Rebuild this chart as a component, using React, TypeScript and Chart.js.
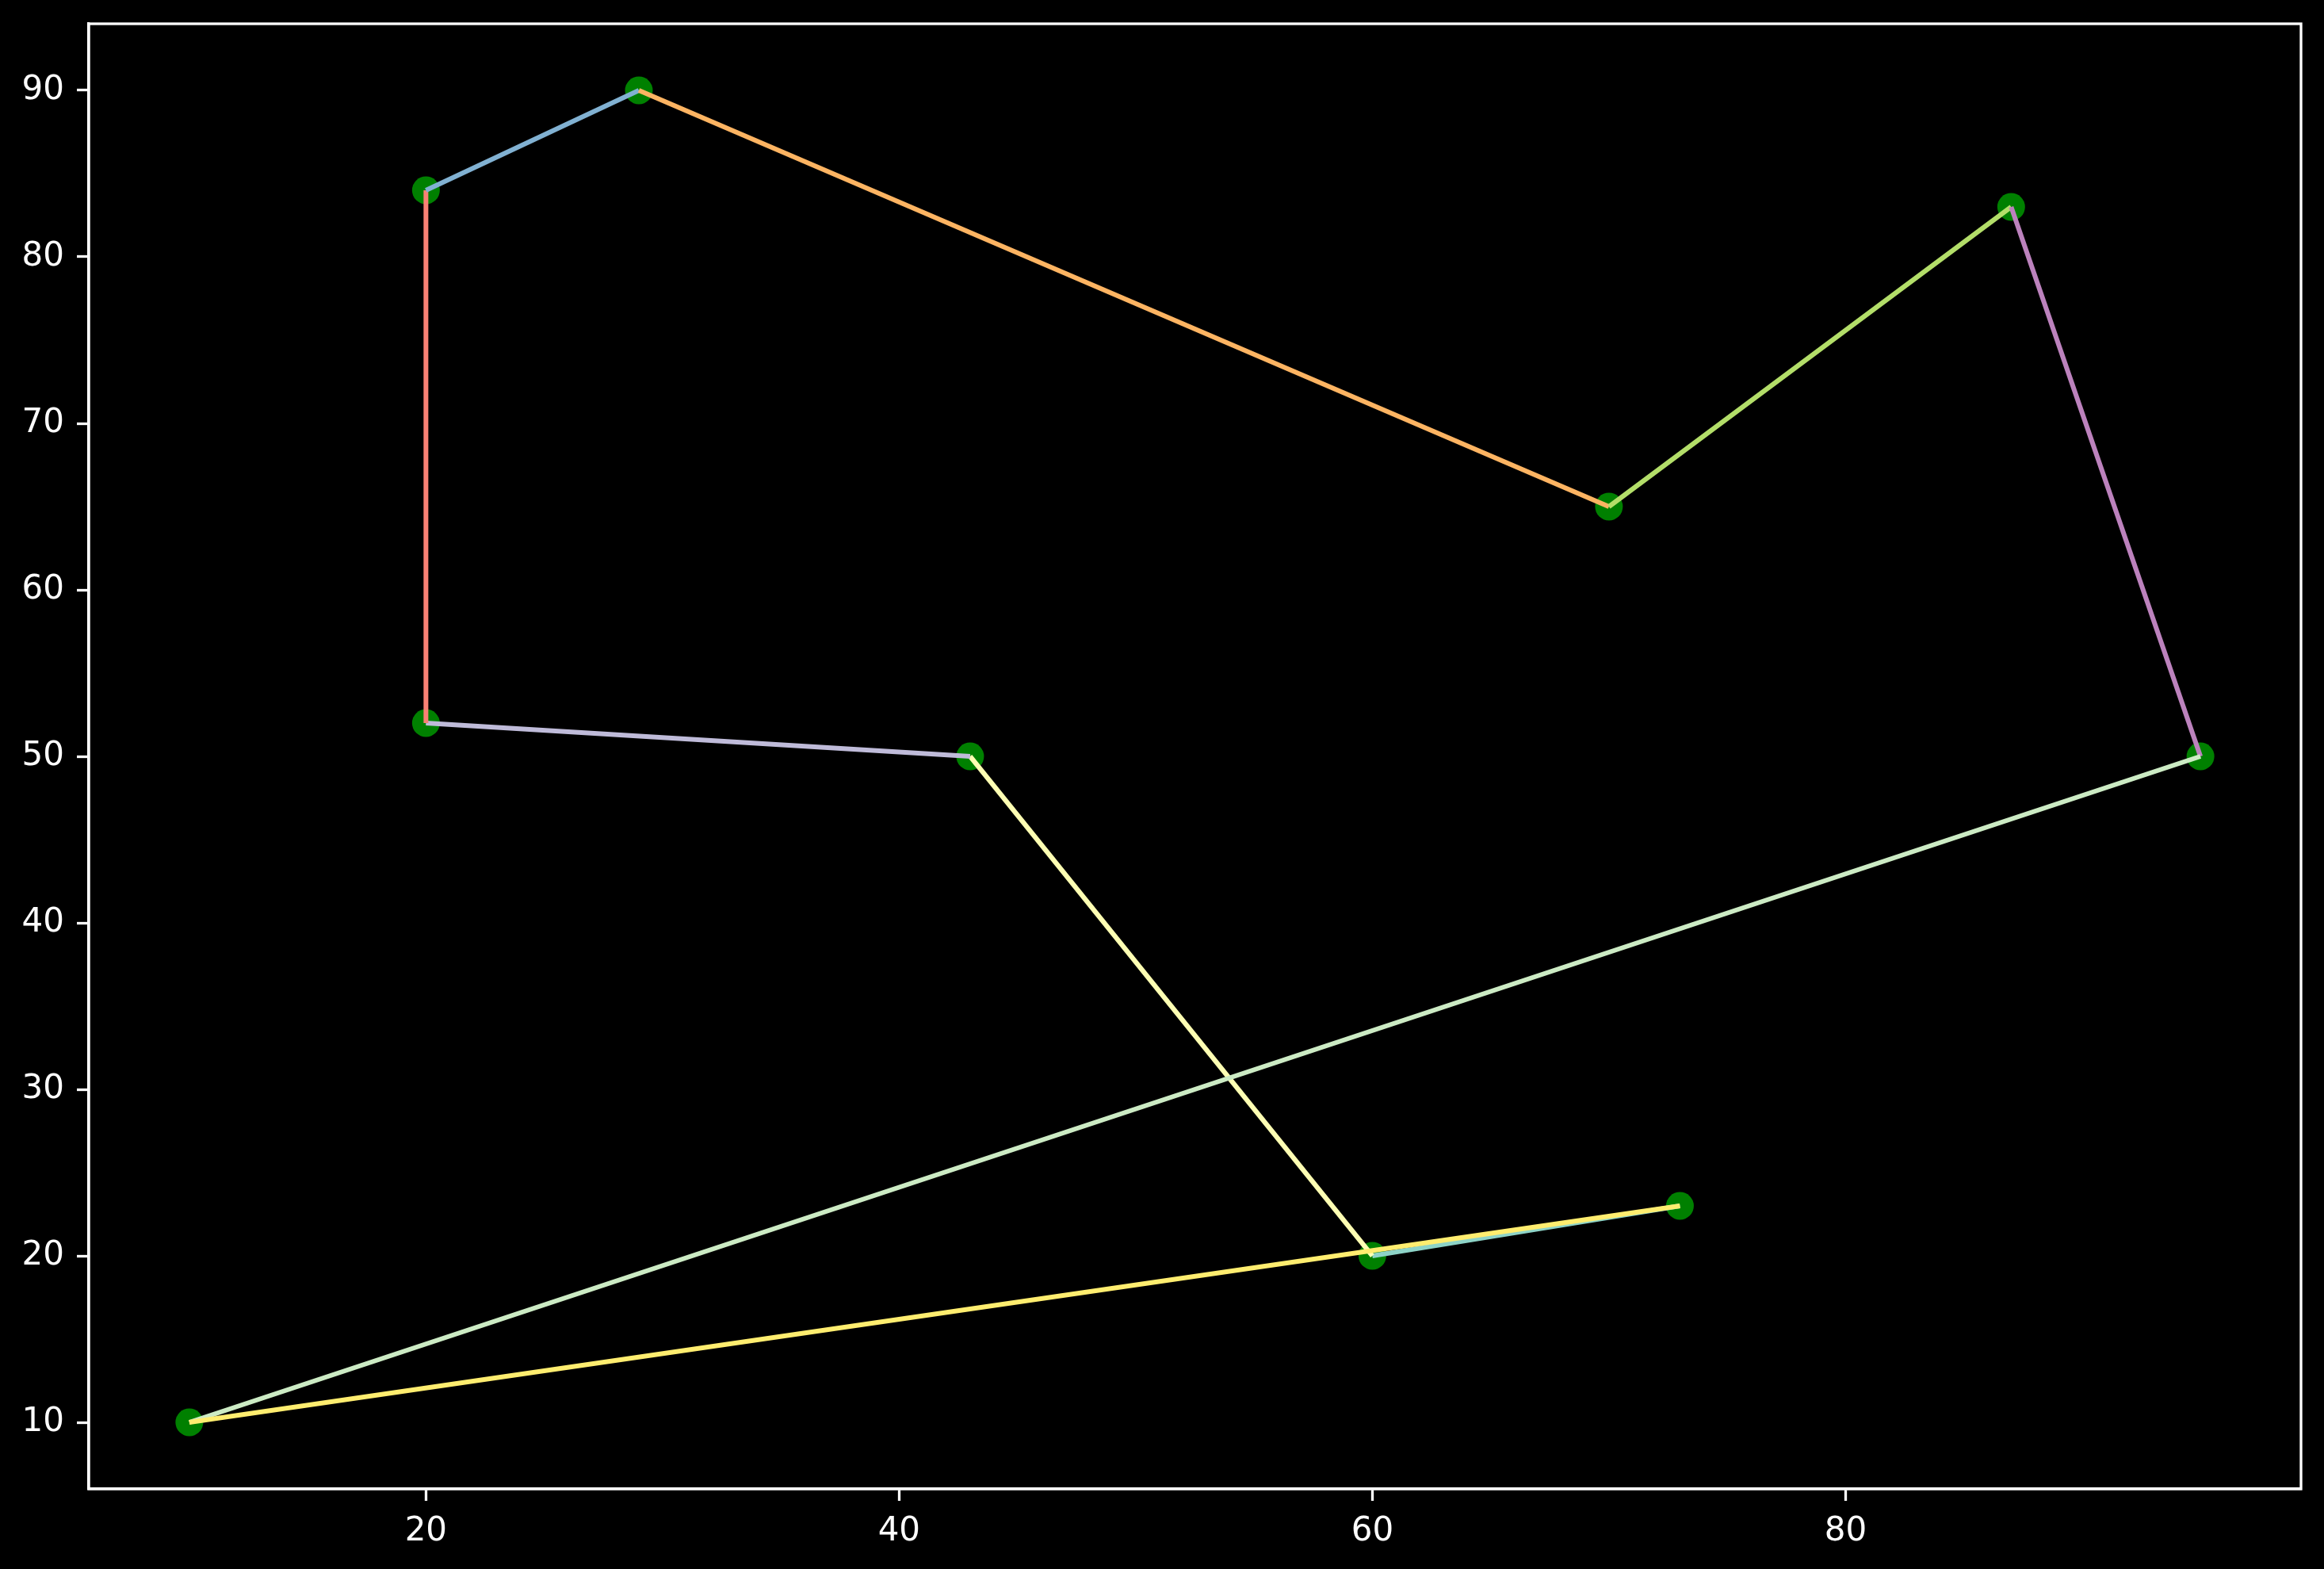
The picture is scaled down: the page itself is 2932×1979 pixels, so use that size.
import React, { useEffect, useRef } from "react";
import { Chart, registerables } from "chart.js";

Chart.register(...registerables);

// Tour order of cities (closed loop)
const tourX = [73, 60, 43, 20, 20, 29, 70, 87, 95, 10, 73];
const tourY = [23, 20, 50, 52, 84, 90, 65, 83, 50, 10, 23];
// City points
const cityX = [20, 29, 70, 87, 95, 10, 73, 60, 43, 20];
const cityY = [84, 90, 65, 83, 50, 10, 23, 20, 50, 52];
// dark_background colour cycle
const segmentColors = [
  "#8dd3c7", "#feffb3", "#bfbbd9", "#fa8174", "#81b1d2",
  "#fdb462", "#b3de69", "#bc82bd", "#ccebc4", "#ffed6f",
];
const xTicks = [20, 40, 60, 80];
const yTicks = [10, 20, 30, 40, 50, 60, 70, 80, 90];

const W = 2932;
const H = 1979;

export default function App() {
  const ref = useRef<HTMLCanvasElement | null>(null);

  useEffect(() => {
    document.body.style.margin = "0";
    document.body.style.background = "#000";
    const canvas = ref.current;
    if (!canvas) return;

    const segDatasets: any[] = [];
    for (let i = 0; i < tourX.length - 1; i++) {
      segDatasets.push({
        type: "scatter",
        data: [
          { x: tourX[i], y: tourY[i] },
          { x: tourX[i + 1], y: tourY[i + 1] },
        ],
        showLine: true,
        borderColor: segmentColors[i % segmentColors.length],
        backgroundColor: segmentColors[i % segmentColors.length],
        borderWidth: 6,
        pointRadius: 0,
        order: 50 - i,
      });
    }

    const frame = {
      id: "frame",
      afterDatasetsDraw(chart: any) {
        const { ctx, chartArea } = chart;
        ctx.save();
        ctx.strokeStyle = "#ffffff";
        ctx.lineWidth = 3.3;
        ctx.strokeRect(
          chartArea.left,
          chartArea.top,
          chartArea.right - chartArea.left,
          chartArea.bottom - chartArea.top
        );
        ctx.restore();
      },
    };

    const font = { family: "DejaVu Sans", size: 42 };

    const chart = new Chart(canvas, {
      type: "scatter",
      data: {
        datasets: [
          {
            data: cityX.map((x, i) => ({ x, y: cityY[i] })),
            backgroundColor: "#008000",
            borderWidth: 0,
            pointRadius: 17.5,
            order: 100,
          } as any,
          ...segDatasets,
        ],
      },
      options: {
        animation: false,
        responsive: false,
        maintainAspectRatio: false,
        devicePixelRatio: 1,
        layout: { padding: { left: 0, top: 30, right: 29, bottom: 0 } },
        plugins: {
          legend: { display: false },
          tooltip: { enabled: false },
        },
        scales: {
          x: {
            type: "linear",
            min: 5.75,
            max: 99.25,
            afterBuildTicks: (s: any) => {
              s.ticks = xTicks.map((v) => ({ value: v }));
            },
            afterFit: (s: any) => {
              s.height = H - 1878;
              s.paddingLeft = 0;
              s.paddingRight = 0;
            },
            grid: {
              display: true,
              drawOnChartArea: false,
              drawTicks: true,
              tickLength: 15,
              tickWidth: 3.3,
              tickColor: "#ffffff",
            },
            border: { display: true, color: "#ffffff", width: 3.3 },
            ticks: {
              color: "#ffffff",
              font,
              padding: 14,
              maxRotation: 0,
              autoSkip: false,
            },
          },
          y: {
            type: "linear",
            min: 6,
            max: 94,
            afterBuildTicks: (s: any) => {
              s.ticks = yTicks.map((v) => ({ value: v }));
            },
            afterFit: (s: any) => {
              s.width = 112;
              s.paddingTop = 0;
              s.paddingBottom = 0;
            },
            grid: {
              display: true,
              drawOnChartArea: false,
              drawTicks: true,
              tickLength: 15,
              tickWidth: 3.3,
              tickColor: "#ffffff",
            },
            border: { display: true, color: "#ffffff", width: 3.3 },
            ticks: {
              color: "#ffffff",
              font,
              padding: 16,
              autoSkip: false,
            },
          },
        },
      },
      plugins: [frame],
    } as any);

    return () => chart.destroy();
  }, []);

  return (
    <div
      style={{
        position: "fixed",
        left: 0,
        top: 0,
        width: W,
        height: H,
        background: "#000",
      }}
    >
      <canvas ref={ref} width={W} height={H} style={{ width: W, height: H }} />
    </div>
  );
}
